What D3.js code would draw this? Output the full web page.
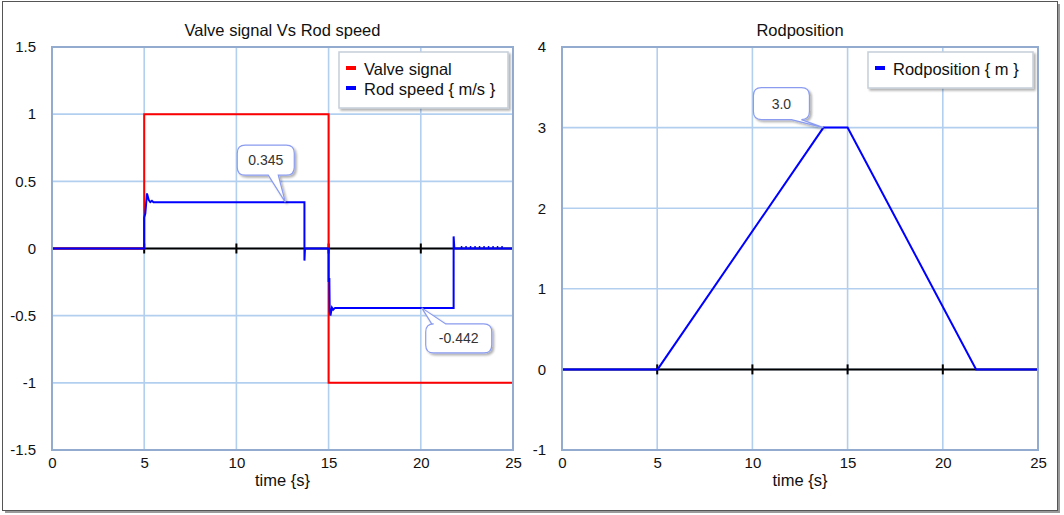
<!DOCTYPE html>
<html>
<head>
<meta charset="utf-8">
<script src="https://cdn.jsdelivr.net/npm/d3@7"></script>
<style>
  body { margin: 0; background: #fff; }
  text { font-family: "Liberation Sans", Arial, sans-serif; }
</style>
</head>
<body>
<script>
var width = 1064;
var height = 515;

// -- data --
var timeTicks = [0, 5, 10, 15, 20, 25];
var speedTicks = [-1.5, -1, -0.5, 0, 0.5, 1, 1.5];
var positionTicks = [-1, 0, 1, 2, 3, 4];

var valveSignal = [[0,0],[5,0],[5,1],[15,1],[15,-1],[25,-1]];
var rodSpeed = [[0,0],[5,0],[5,0.23],[5.06,0.26],[5.15,0.41],[5.25,0.36],[5.33,0.345],[5.42,0.355],[5.5,0.345],
  [13.69,0.345],[13.69,-0.09],[13.72,0],[15,0],[15,-0.25],[15.04,-0.22],[15.06,-0.47],[15.1,-0.5],
  [15.18,-0.44],[15.25,-0.455],[15.35,-0.442],[21.78,-0.442],[21.78,0.09],[21.82,0],[25,0]];
var rodSpeedRipple = [[22.17,0.012],[24.6,0.012]];
var rodPosition = [[0,0],[5.02,0],[13.73,3.0],[15,3.0],[21.75,0],[25,0]];

var speedCallouts = [{ t: 12.65, v: 0.345, label: "0.345" }, { t: 20.05, v: -0.442, label: "-0.442" }];
var positionCallouts = [{ t: 13.73, v: 3.0, label: "3.0" }];

var svg = d3.select("body").append("svg")
    .attr("width", width)
    .attr("height", height);

var defs = svg.append("defs");
defs.append("filter").attr("id", "shadow")
  .attr("x", "-20%").attr("y", "-20%").attr("width", "150%").attr("height", "160%")
  .append("feDropShadow")
  .attr("dx", 2).attr("dy", 2).attr("stdDeviation", 1.2)
  .attr("flood-color", "#000").attr("flood-opacity", 0.3);

// outer frame with shadow
svg.append("rect")
  .attr("x", 5).attr("y", 4).attr("width", 1055).attr("height", 509)
  .attr("fill", "#9a9a9a");
svg.append("rect")
  .attr("x", 2.5).attr("y", 1.5).attr("width", 1055).attr("height", 509)
  .attr("fill", "#fff").attr("stroke", "#555").attr("stroke-width", 1);

function calloutPath(x, y, w, h, r, side, b1, b2, tx, ty) {
  var p = "M" + (x + r) + "," + y;
  if (side == "top") {
    p += "L" + (x + b1) + "," + y + "L" + tx + "," + ty + "L" + (x + b2) + "," + y;
  }
  p += "L" + (x + w - r) + "," + y + "Q" + (x + w) + "," + y + " " + (x + w) + "," + (y + r);
  p += "L" + (x + w) + "," + (y + h - r) + "Q" + (x + w) + "," + (y + h) + " " + (x + w - r) + "," + (y + h);
  if (side == "bottom") {
    p += "L" + (x + b2) + "," + (y + h) + "L" + tx + "," + ty + "L" + (x + b1) + "," + (y + h);
  }
  p += "L" + (x + r) + "," + (y + h) + "Q" + x + "," + (y + h) + " " + x + "," + (y + h - r);
  p += "L" + x + "," + (y + r) + "Q" + x + "," + y + " " + (x + r) + "," + y + "Z";
  return p;
}

function drawChart(opt) {
  var xScale = d3.scaleLinear().domain([0, 25]).range([opt.left, opt.right]);
  var yScale = d3.scaleLinear().domain(opt.yDomain).range([opt.bottom, opt.top]);
  var g = svg.append("g");

  // grid
  g.selectAll(".vgrid")
    .data(timeTicks.slice(1, -1))
    .enter().append("line")
    .attr("x1", function(d) { return xScale(d); })
    .attr("x2", function(d) { return xScale(d); })
    .attr("y1", opt.top).attr("y2", opt.bottom)
    .attr("stroke", "#b3cff0").attr("stroke-width", 1.6);
  g.selectAll(".hgrid")
    .data(opt.yTicks.slice(1, -1))
    .enter().append("line")
    .attr("x1", opt.left).attr("x2", opt.right)
    .attr("y1", function(d) { return yScale(d); })
    .attr("y2", function(d) { return yScale(d); })
    .attr("stroke", "#b3cff0").attr("stroke-width", 1.6);

  // zero axis with ticks
  g.append("line")
    .attr("x1", opt.left).attr("x2", opt.right)
    .attr("y1", yScale(0)).attr("y2", yScale(0))
    .attr("stroke", "#000").attr("stroke-width", 2);
  g.selectAll(".zt")
    .data(timeTicks.slice(1, -1))
    .enter().append("line")
    .attr("x1", function(d) { return xScale(d); })
    .attr("x2", function(d) { return xScale(d); })
    .attr("y1", yScale(0) - 5).attr("y2", yScale(0) + 5)
    .attr("stroke", "#000").attr("stroke-width", 2);

  var line = d3.line()
    .x(function(d) { return xScale(d[0]); })
    .y(function(d) { return yScale(d[1]); });

  opt.series.forEach(function(s) {
    g.append("path")
      .attr("d", line(s.data))
      .attr("fill", "none")
      .attr("stroke", s.color)
      .attr("stroke-width", 2)
      .attr("stroke-dasharray", s.dash || null);
  });

  // plot border
  g.append("rect")
    .attr("x", opt.left).attr("y", opt.top)
    .attr("width", opt.right - opt.left).attr("height", opt.bottom - opt.top)
    .attr("fill", "none").attr("stroke", "#93abcf").attr("stroke-width", 2);

  // axes labels
  var yAxis = d3.axisLeft(yScale).tickValues(opt.yTicks).tickSize(0).tickPadding(16)
    .tickFormat(function(d) { return String(d); });
  var xAxis = d3.axisBottom(xScale).tickValues(timeTicks).tickSize(0).tickPadding(7)
    .tickFormat(function(d) { return String(d); });
  var ya = g.append("g").attr("transform", "translate(" + opt.left + ",0)").call(yAxis);
  var xa = g.append("g").attr("transform", "translate(0," + opt.bottom + ")").call(xAxis);
  [ya, xa].forEach(function(a) {
    a.select(".domain").remove();
    a.selectAll("text").attr("font-size", 15).attr("fill", "#111")
      .attr("font-family", "'Liberation Sans', Arial, sans-serif");
  });

  g.append("text")
    .attr("x", (opt.left + opt.right) / 2).attr("y", 36)
    .attr("text-anchor", "middle").attr("font-size", 16.5).attr("fill", "#111")
    .text(opt.title);
  g.append("text")
    .attr("x", (opt.left + opt.right) / 2).attr("y", 486)
    .attr("text-anchor", "middle").attr("font-size", 16.5).attr("fill", "#111")
    .text("time {s}");

  // legend
  var lw = opt.legendWidth, lh = 16 + 20 * opt.legend.length;
  var lg = g.append("g").attr("transform", "translate(" + (opt.right - 5 - lw) + "," + (opt.top + 5) + ")");
  lg.append("rect").attr("width", lw).attr("height", lh)
    .attr("fill", "#fff").attr("stroke", "#c6ced8").attr("stroke-width", 1.5)
    .attr("filter", "url(#shadow)");
  lg.selectAll(".sw").data(opt.legend).enter().append("rect")
    .attr("x", 7).attr("y", function(d, i) { return 14 + i * 20; })
    .attr("width", 10).attr("height", 4)
    .attr("fill", function(d) { return d.color; });
  lg.selectAll(".lt").data(opt.legend).enter().append("text")
    .attr("x", 25).attr("y", function(d, i) { return 23 + i * 20; })
    .attr("font-size", 16.5).attr("fill", "#111")
    .text(function(d) { return d.name; });

  // callouts
  opt.callouts.forEach(function(c, i) {
    var b = opt.boxes[i];
    var tx = xScale(c.t), ty = yScale(c.v);
    var bx = tx + b.dx, by = ty + b.dy;
    g.append("path")
      .attr("d", calloutPath(bx, by, b.w, b.h, 8, b.side, b.b1, b.b2, tx, ty))
      .attr("fill", "#fff").attr("stroke", "#8b9cf0").attr("stroke-width", 1.2)
      .attr("filter", "url(#shadow)");
    g.append("text")
      .attr("x", bx + b.w / 2).attr("y", by + b.h / 2 + 5)
      .attr("text-anchor", "middle").attr("font-size", 14).attr("fill", "#333")
      .text(c.label);
  });
}

drawChart({
  left: 52, right: 513, top: 47, bottom: 450,
  yDomain: [-1.5, 1.5], yTicks: speedTicks,
  title: "Valve signal Vs Rod speed",
  series: [
    { data: valveSignal, color: "#ff0000" },
    { data: rodSpeed, color: "#0000ff" },
    { data: rodSpeedRipple, color: "#0000ff", dash: "1.5,3" }
  ],
  legend: [{ name: "Valve signal", color: "#ff0000" }, { name: "Rod speed { m/s }", color: "#0000ff" }],
  legendWidth: 169,
  callouts: speedCallouts,
  boxes: [
    { dx: -48, dy: -57, w: 57, h: 30, side: "bottom", b1: 31, b2: 41 },
    { dx: 4, dy: 16, w: 66, h: 29, side: "top", b1: 6, b2: 20 }
  ]
});

drawChart({
  left: 562, right: 1038, top: 47, bottom: 450,
  yDomain: [-1, 4], yTicks: positionTicks,
  title: "Rodposition",
  series: [{ data: rodPosition, color: "#0000ff" }],
  legend: [{ name: "Rodposition { m }", color: "#0000ff" }],
  legendWidth: 165,
  callouts: positionCallouts,
  boxes: [
    { dx: -70, dy: -40, w: 56, h: 32, side: "bottom", b1: 38, b2: 48 }
  ]
});
</script>
</body>
</html>
